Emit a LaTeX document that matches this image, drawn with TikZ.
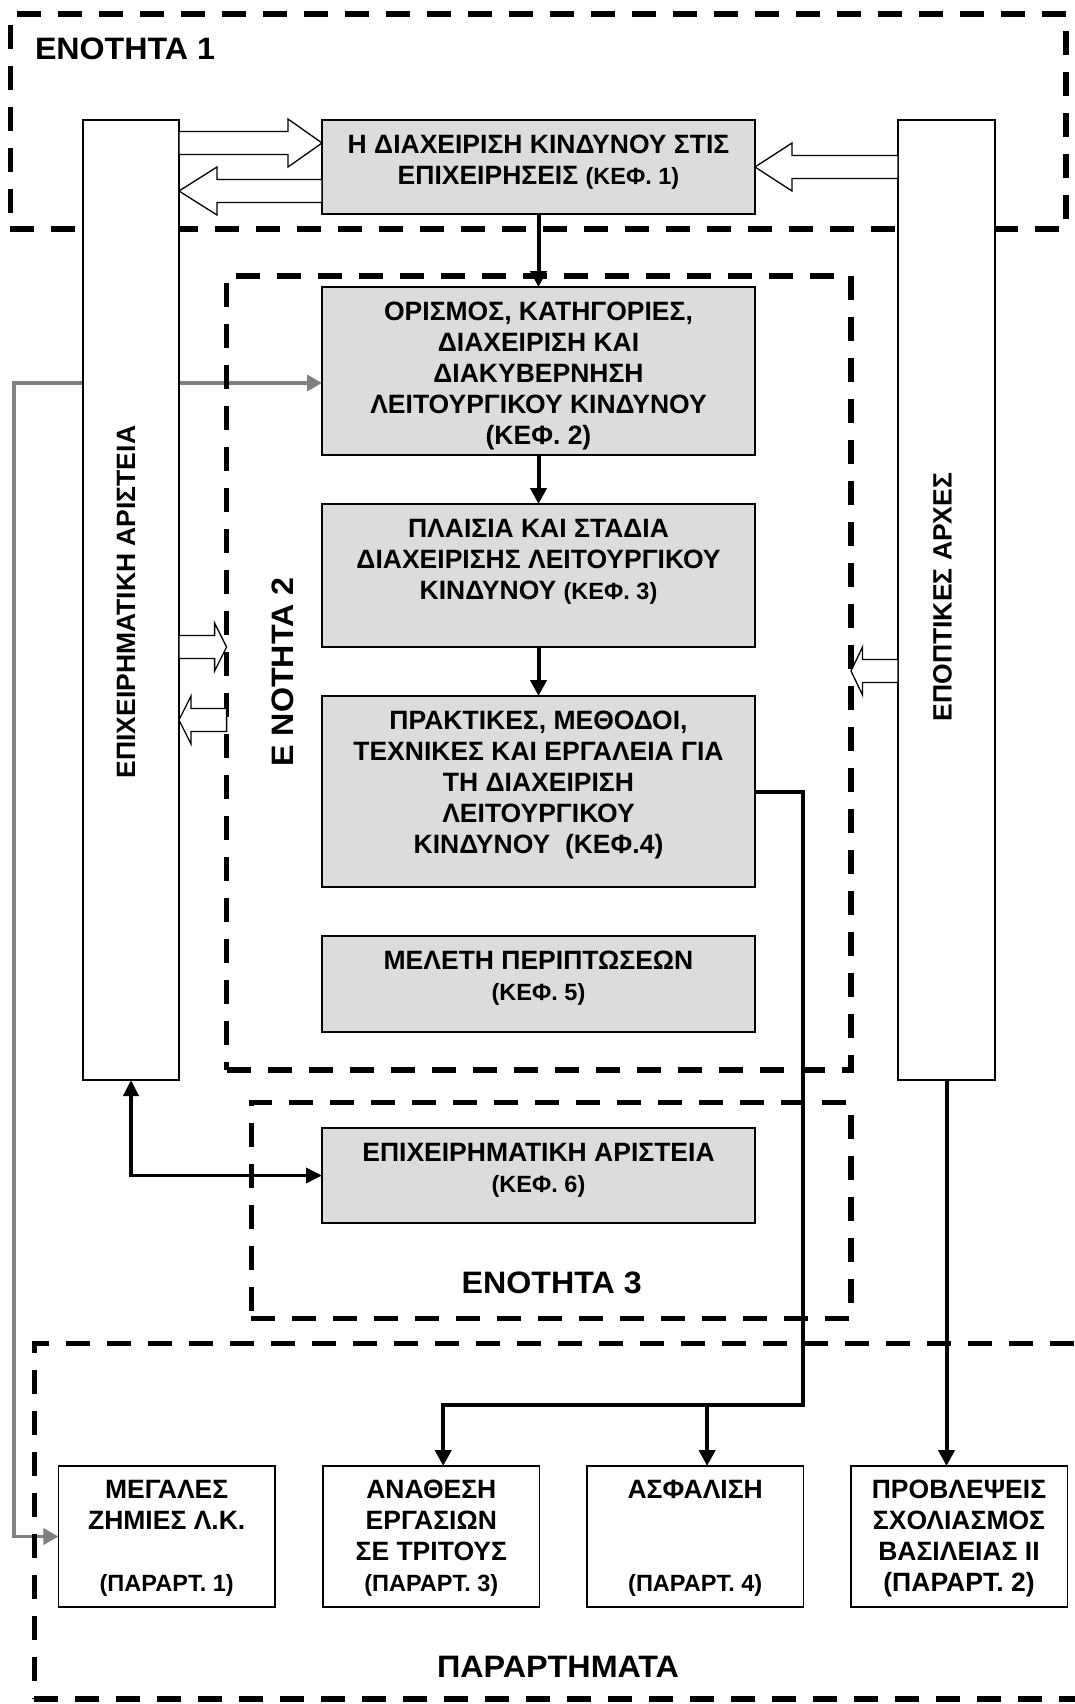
\documentclass[tikz,border=0pt]{standalone}
\usepackage{fontspec}
\usepackage{graphicx}
\setmainfont{Liberation Sans}[BoldFont={Liberation Sans Bold}]
\usetikzlibrary{arrows.meta,calc}

\definecolor{boxfill}{RGB}{220,220,220}
\definecolor{linkgray}{RGB}{128,128,128}

\pgfdeclarelayer{back}
\pgfsetlayers{back,main}

% smaller type for chapter / appendix references
\newcommand\kefsmall[1]{{\fontsize{23.5}{31}\selectfont #1}}

% white block arrow: #1 tail anchor, #2 tip anchor, #3 axis y, #4 signed head length
\newcommand\hollowarrow[4]{%
  \coordinate (ax) at (0,#3);
  \draw[hollow] ($(#1 |- ax)+(0,-11.5)$) -- ($(#2 |- ax)+({-1*(#4)},-11.5)$)
    -- ($(#2 |- ax)+({-1*(#4)},-24)$) -- (#2 |- ax)
    -- ($(#2 |- ax)+({-1*(#4)},24)$) -- ($(#2 |- ax)+({-1*(#4)},11.5)$)
    -- ($(#1 |- ax)+(0,11.5)$) -- cycle;}

\begin{document}
\begin{tikzpicture}[x=1pt,y=-1pt,
  every node/.style={inner sep=0pt,outer sep=0pt},
  container/.style={draw,line width=5.5pt,dash pattern=on 24pt off 17pt},
  tallbox/.style={draw,line width=1.5pt,fill=white,minimum height=960pt},
  chapbox/.style={draw,line width=1.5pt,fill=boxfill,minimum width=433pt},
  appbox/.style={draw,line width=1.5pt,fill=white,minimum width=216.5pt,minimum height=141pt},
  boxtext/.style={align=center,anchor=north,font=\bfseries\fontsize{26.5}{31}\selectfont},
  sidetext/.style={rotate=90,font=\bfseries\fontsize{26.5}{31}\selectfont},
  parttitle/.style={font=\bfseries\fontsize{31}{36}\selectfont},
  link/.style={line width=4pt,-{Triangle[length=16pt,width=16pt]}},
  linkboth/.style={line width=3.5pt,{Triangle[length=16pt,width=15pt]}-{Triangle[length=16pt,width=15pt]}},
  graylink/.style={draw=linkgray,line width=3.5pt,
    {Triangle[length=15pt,width=16pt]}-{Triangle[length=15pt,width=16pt]}},
  hollow/.style={draw,fill=white,line width=1.3pt}]

\useasboundingbox (0,0) rectangle (1075,1704);
\begin{pgfonlayer}{back}
  \fill[white] (0,0) rectangle (1075,1704);
\end{pgfonlayer}

% dashed section frames
\node[container,minimum width=1055.7pt,minimum height=215pt] (e1) at (538.2,121.5) {};
\node[container,minimum width=624.4pt,minimum height=794pt] (e2) at (538.8,673) {};
\node[container,minimum width=599.6pt,minimum height=215.6pt] (e3) at (551.2,1210.5) {};
\node[container,minimum width=1080pt,minimum height=355.7pt] (e4) at (574.4,1521.2) {};

% tall side columns
\node[tallbox,minimum width=96pt] (ea) at (131,600) {};
\node[tallbox,minimum width=97pt] (ep) at (946.5,600) {};
\node[sidetext] (ta) at ($(ea.center)+(-5,2)$) {ΕΠΙΧΕΙΡΗΜΑΤΙΚΗ ΑΡΙΣΤΕΙΑ};
\node[sidetext] (tp) at ($(ep.center)+(-4,-3)$) {ΕΠΟΠΤΙΚΕΣ ΑΡΧΕΣ};

% chapter boxes
\node[chapbox,minimum height=94pt]  (b1) at (538.5,167) {};
\node[chapbox,minimum height=168pt] (b2) at (538.5,371) {};
\node[chapbox,minimum height=143pt] (b3) at (538.5,575.5) {};
\node[chapbox,minimum height=191pt] (b4) at (538.5,791.5) {};
\node[chapbox,minimum height=96pt]  (b5) at (538.5,984) {};
\node[chapbox,minimum height=95pt]  (b6) at (538.5,1175.5) {};

\node[boxtext] (t1) at ($(b1.north)+(0,15)$)
  {Η ΔΙΑΧΕΙΡΙΣΗ ΚΙΝΔΥΝΟΥ ΣΤΙΣ\\ΕΠΙΧΕΙΡΗΣΕΙΣ \kefsmall{(ΚΕΦ. 1)}};
\node[boxtext] (t2) at ($(b2.north)+(0,15)$)
  {ΟΡΙΣΜΟΣ, ΚΑΤΗΓΟΡΙΕΣ,\\ΔΙΑΧΕΙΡΙΣΗ ΚΑΙ\\ΔΙΑΚΥΒΕΡΝΗΣΗ\\ΛΕΙΤΟΥΡΓΙΚΟΥ ΚΙΝΔΥΝΟΥ\\(ΚΕΦ. 2)};
\node[boxtext] (t3) at ($(b3.north)+(0,15)$)
  {ΠΛΑΙΣΙΑ ΚΑΙ ΣΤΑΔΙΑ\\ΔΙΑΧΕΙΡΙΣΗΣ ΛΕΙΤΟΥΡΓΙΚΟΥ\\ΚΙΝΔΥΝΟΥ \kefsmall{(ΚΕΦ. 3)}};
\node[boxtext] (t4) at ($(b4.north)+(0,15)$)
  {ΠΡΑΚΤΙΚΕΣ, ΜΕΘΟΔΟΙ,\\ΤΕΧΝΙΚΕΣ ΚΑΙ ΕΡΓΑΛΕΙΑ ΓΙΑ\\ΤΗ ΔΙΑΧΕΙΡΙΣΗ\\ΛΕΙΤΟΥΡΓΙΚΟΥ\\ΚΙΝΔΥΝΟΥ\ \ (ΚΕΦ.4)};
\node[boxtext] (t5) at ($(b5.north)+(0,15)$)
  {ΜΕΛΕΤΗ ΠΕΡΙΠΤΩΣΕΩΝ\\\kefsmall{(ΚΕΦ. 5)}};
\node[boxtext] (t6) at ($(b6.north)+(0,15)$)
  {ΕΠΙΧΕΙΡΗΜΑΤΙΚΗ ΑΡΙΣΤΕΙΑ\\\kefsmall{(ΚΕΦ. 6)}};

% appendix boxes
\node[appbox] (bA) at (166.7,1536.5) {};
\node[appbox] (bB) at (431.3,1536.5) {};
\node[appbox] (bC) at (695.2,1536.5) {};
\node[appbox] (bD) at (959,1536.5) {};

\node[boxtext] (tA) at ($(bA.north)+(0,14)$)
  {ΜΕΓΑΛΕΣ\\ΖΗΜΙΕΣ Λ.Κ.\\[31pt]\kefsmall{(ΠΑΡΑΡΤ. 1)}};
\node[boxtext] (tB) at ($(bB.north)+(0,14)$)
  {ΑΝΑΘΕΣΗ\\ΕΡΓΑΣΙΩΝ\\ΣΕ ΤΡΙΤΟΥΣ\\\kefsmall{(ΠΑΡΑΡΤ. 3)}};
\node[boxtext] (tC) at ($(bC.north)+(0,14)$)
  {ΑΣΦΑΛΙΣΗ\\[62pt]\kefsmall{(ΠΑΡΑΡΤ. 4)}};
\node[boxtext] (tD) at ($(bD.north)+(0,14)$)
  {ΠΡΟΒΛΕΨΕΙΣ\\ΣΧΟΛΙΑΣΜΟΣ\\ΒΑΣΙΛΕΙΑΣ ΙΙ\\(ΠΑΡΑΡΤ. 2)};

% section titles
\node[parttitle,anchor=west] (l1) at (35,49) {\resizebox{180pt}{\height}{ΕΝΟΤΗΤΑ 1}};
\node[parttitle,rotate=90] (l2) at (282.5,672) {\resizebox{189pt}{\height}{Ε ΝΟΤΗΤΑ 2}};
\node[parttitle] (l3) at (551.7,1283) {\resizebox{180pt}{\height}{ΕΝΟΤΗΤΑ 3}};
\node[parttitle] (l4) at (558,1667) {\resizebox{242pt}{\height}{ΠΑΡΑΡΤΗΜΑΤΑ}};

% white block arrows
\hollowarrow{ea.east}{b1.west}{143}{34}
\hollowarrow{b1.west}{ea.east}{191}{-38}
\hollowarrow{ep.west}{b1.east}{167}{-37}
\hollowarrow{ea.east}{e2.west}{647}{12}
\hollowarrow{e2.west}{ea.east}{720}{-12}
\hollowarrow{ep.west}{e2.east}{671}{-11.5}

% black connectors
\draw[link] (b1.south) -- (b2.north);
\draw[link] (b2.south) -- (b3.north);
\draw[link] (b3.south) -- (b4.north);
\coordinate (split) at (803,1405);
\coordinate (inB) at ($(bB.north west)!0.555!(bB.north east)$);
\coordinate (inC) at ($(bC.north west)!0.555!(bC.north east)$);
\draw[link] (b4.east) -| (split) -- (split -| inB) -- (inB);
\draw[link] (split -| inC) -- (inC);
\draw[link] (ep.south) -- (ep.south |- bD.north);
\draw[linkboth] (ea.south) |- (b6.west);

% grey connector, running beneath the columns and frames
\begin{pgfonlayer}{back}
  \coordinate (gturn) at (13.8,383);
  \draw[graylink] ($(b2.west)+(0,12)$) -- (gturn) |- (bA.west);
\end{pgfonlayer}
\end{tikzpicture}
\end{document}
